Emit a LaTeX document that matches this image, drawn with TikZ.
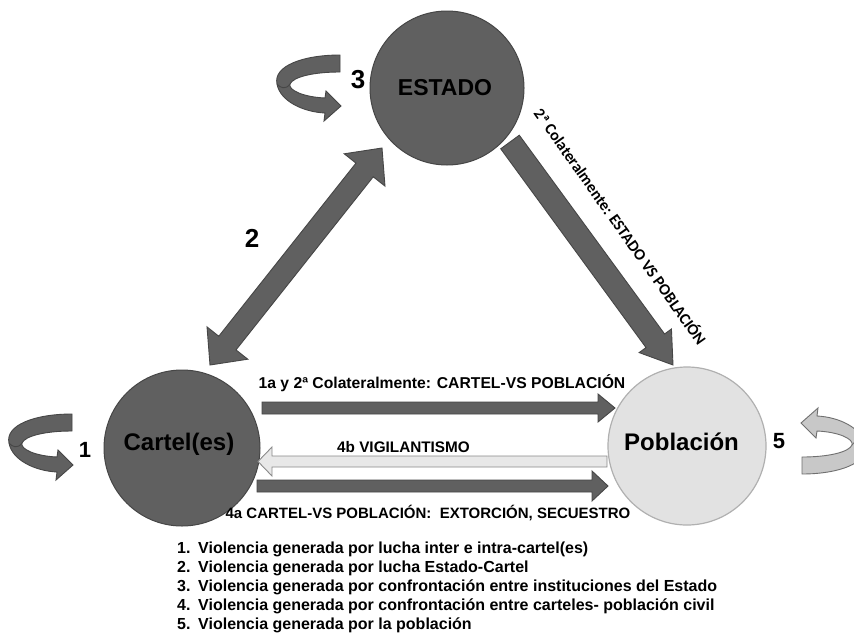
\documentclass[tikz,border=0pt]{standalone}
\usepackage{fontspec}
\setmainfont{Liberation Sans}
\newfontfamily\calib{Carlito}
\usetikzlibrary{calc}
\definecolor{dk}{HTML}{606060}
\definecolor{dkb}{HTML}{464646}
\definecolor{lt}{HTML}{E2E2E2}
\definecolor{ltb}{HTML}{B0B0B0}
\definecolor{la}{HTML}{E8E8E8}
\definecolor{lab}{HTML}{8A8A8A}
\definecolor{lp}{HTML}{C8C8C8}
\definecolor{lpb}{HTML}{707070}

% block arrow: style, start, end, half shaft, half head, head length
\newcommand{\barrow}[6]{%
 \path ($(#3)!#6!(#2)$) coordinate (bab);
 \draw[#1] ($(#2)!#4!90:(#3)$) -- ($(bab)!#4!-90:(#2)$) -- ($(bab)!#5!-90:(#2)$) -- (#3)
   -- ($(bab)!#5!90:(#2)$) -- ($(bab)!#4!90:(#2)$) -- ($(#2)!#4!-90:(#3)$) -- cycle;}
% double block arrow
\newcommand{\dbarrow}[6]{%
 \path ($(#3)!#6!(#2)$) coordinate (bab) ($(#2)!#6!(#3)$) coordinate (baa);
 \draw[#1] (#2) -- ($(baa)!#5!90:(#3)$) -- ($(baa)!#4!90:(#3)$) -- ($(bab)!#4!-90:(#2)$)
   -- ($(bab)!#5!-90:(#2)$) -- (#3) -- ($(bab)!#5!90:(#2)$) -- ($(bab)!#4!90:(#2)$)
   -- ($(baa)!#4!-90:(#3)$) -- ($(baa)!#5!-90:(#3)$) -- cycle;}
% curved self-loop arrow (drawn at the Cartel position)
\newcommand{\loopshape}[1]{%
 \draw[#1] (72,414) .. controls (35,414) and (5,425) .. (9,443)
   .. controls (12,460) and (35,471) .. (57,472) -- (56,480) -- (73,465) -- (58,450) -- (57,457)
   .. controls (35,456) and (20,449) .. (22,443) .. controls (25,436) and (45,431) .. (72,431) -- cycle;
 \draw[#1, fill=none] (9,443) .. controls (12,447) and (18,449) .. (22,443);}

\tikzset{
  x=1pt, y=-1pt,
  darkcirc/.style={circle, fill=dk, draw=dkb, line width=1pt, inner sep=0pt},
  lightcirc/.style={circle, fill=lt, draw=ltb, line width=1.2pt, inner sep=0pt},
  darkarrow/.style={fill=dk, draw=dkb, line width=0.9pt, line join=miter},
  lightarrow/.style={fill=la, draw=lab, line width=0.9pt, line join=miter},
  darkloop/.style={fill=dk, draw=dkb, line width=0.9pt},
  lightloop/.style={fill=lp, draw=lpb, line width=0.9pt},
  big/.style={font=\fontsize{24}{28}\selectfont\bfseries, inner sep=0pt, anchor=base},
  num/.style={font=\fontsize{26}{30}\selectfont\bfseries, inner sep=0pt, anchor=base},
  nums/.style={font=\fontsize{22}{26}\selectfont\bfseries, inner sep=0pt, anchor=base},
  lbl/.style={font=\fontsize{15.7}{18}\selectfont\bfseries, inner sep=0pt, anchor=base},
  leg/.style={font=\fontsize{16}{19}\selectfont\bfseries, inner sep=0pt, anchor=base west},
}

\begin{document}
\begin{tikzpicture}
\clip (0,0) rectangle (854,635);
\fill[white] (0,0) rectangle (854,635);

% circles
\node[darkcirc, minimum size=154pt] (estado) at (447,88) {};
\node[darkcirc, minimum size=156pt] (cartel) at (182,448) {};
\node[lightcirc, minimum size=158pt] (poblacion) at (687,446) {};

\node[big, font=\fontsize{23}{28}\selectfont\bfseries] (estadot) at (445,95) {ESTADO};
\node[big] (cartelt) at (179,450) {Cartel(es)};
\node[big] (poblaciont) at (681.5,450) {Población};

% self loops
\loopshape{darkloop}
\begin{scope}[shift={(268,-359)}]
 \loopshape{darkloop}
\end{scope}
\begin{scope}[rotate around={180:(437,444)}]
 \loopshape{lightloop}
\end{scope}

\node[nums] (n1) at (85,457) {1};
\node[num] (n3) at (358,88) {3};
\node[nums] (n5) at (779,448) {5};
\node[num] (n2) at (252,247) {2};

% double arrow Cartel <-> Estado
\coordinate (a2s) at (210,365);
\coordinate (a2e) at (382,148);
\dbarrow{darkarrow}{a2s}{a2e}{11pt}{26pt}{28pt}

% Estado -> Poblacion
\coordinate (a6s) at (510,142);
\coordinate (a6e) at (673,365);
\barrow{darkarrow}{a6s}{a6e}{11.5pt}{20pt}{30pt}
\node[font=\calib\fontsize{16}{18}\selectfont\bfseries, rotate=-54.7, inner sep=0pt] (l6) at (621,226)
  {2ª Colateralmente: ESTADO VS POBLACIÓN};

% horizontal arrows
\coordinate (h1s) at (262,408);
\coordinate (h1e) at (615,408);
\barrow{darkarrow}{h1s}{h1e}{6pt}{14pt}{17pt}
\node[lbl] (l1) at (442,388) {1a y 2ª Colateralmente: CARTEL-VS POBLACIÓN};

\coordinate (h2s) at (607,461.5);
\coordinate (h2e) at (258,461.5);
\barrow{lightarrow}{h2s}{h2e}{5.5pt}{14.5pt}{14pt}
\node[lbl, font=\fontsize{15.3}{18}\selectfont\bfseries] (l2) at (403.5,452) {4b VIGILANTISMO};

\coordinate (h3s) at (257,486);
\coordinate (h3e) at (608,486);
\barrow{darkarrow}{h3s}{h3e}{6pt}{15pt}{16pt}
\node[lbl, font=\fontsize{15}{18}\selectfont\bfseries] (l3) at (428,518) {4a CARTEL-VS POBLACIÓN:\ \ EXTORCIÓN, SECUESTRO};

% legend
\node[leg] (leg1) at (177,553) {\makebox[21pt][l]{1.}Violencia generada por lucha inter e intra-cartel(es)};
\node[leg] (leg2) at (177,572) {\makebox[21pt][l]{2.}Violencia generada por lucha Estado-Cartel};
\node[leg] (leg3) at (177,591) {\makebox[21pt][l]{3.}Violencia generada por confrontación entre instituciones del Estado};
\node[leg] (leg4) at (177,610) {\makebox[21pt][l]{4.}Violencia generada por confrontación entre carteles- población civil};
\node[leg] (leg5) at (177,629) {\makebox[21pt][l]{5.}Violencia generada por la población};
\end{tikzpicture}
\end{document}
